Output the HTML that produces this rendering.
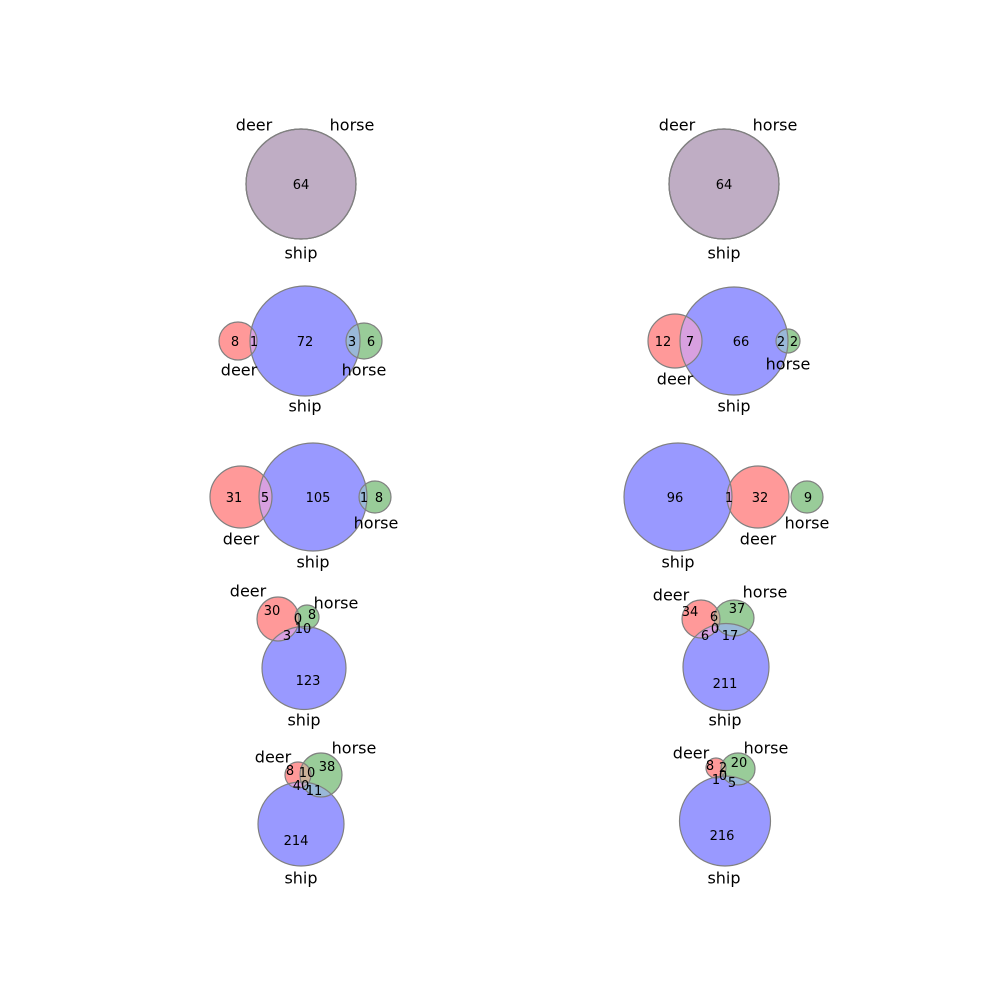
<!DOCTYPE html>
<html><head><meta charset="utf-8"><style>
html,body{margin:0;padding:0;background:#fff;}
svg text{font-family:"DejaVu Sans","Liberation Sans",sans-serif;fill:#000;}
</style></head><body>
<svg id="chart" width="1000" height="1000" viewBox="0 0 1000 1000" xmlns="http://www.w3.org/2000/svg">
<rect width="1000" height="1000" fill="#fff"/>
<defs id="defs"></defs>
</svg>
<script>
// Region counts per panel (text values shown in the diagrams)
const panelNames = ['p1','p2','p3','p4','p5','p6','p7','p8','p9','p10'];
const setLabels = ['deer','horse','ship'];
const regionCounts = [
  ['64'],
  ['64'],
  ['8','1','72','3','6'],
  ['12','7','66','2','2'],
  ['31','5','105','1','8'],
  ['96','1','32','9'],
  ['30','0','8','10','3','123'],
  ['34','6','37','0','6','17','211'],
  ['8','10','38','40','11','214'],
  ['8','2','20','1','0','5','216']
];
// geometry: circles [cx,cy,rx,ry] for deer, horse, ship
const circles = [
  [[301,184,55,55],[301,184,55,55],[301,184,55,55]],
  [[724,184,55,55],[724,184,55,55],[724,184,55,55]],
  [[238,341,19,19],[364,341,18,18],[305,341,55,55]],
  [[675,341,27,27],[788,341,12,12],[734,341,54,54]],
  [[241,497,31,31],[375,497,16,16],[313,497,54,54]],
  [[758,497,31,31],[807,497,16,16],[678,497,54,54]],
  [[278,619,21,22],[307,617,12,12],[304,668,42,41.5]],
  [[701,619,19,19],[734,618,20,18],[726,667,43,43.5]],
  [[298,775,13,13],[321,775,21,22],[301,824,43,42]],
  [[716,768,10,10],[738,769,17,16],[725,821,45.5,45]]
];
const countPos = [
  [[301,184]],
  [[724,184]],
  [[235,341],[254,341],[305,341],[352,341],[371,341]],
  [[663,341],[690,341],[741,341],[781,341],[794,341]],
  [[234,497],[265,497],[318,497],[364,497],[379,497]],
  [[675,497],[729,497],[760,497],[808,497]],
  [[272,610],[298,618],[312,614],[303,628],[287,635],[308,680]],
  [[690,611],[714,616],[737,608],[715,628],[705,635],[730,635],[725,683]],
  [[290,770],[307,772],[327,766],[301,785],[314,790],[296,840]],
  [[710,765],[723,767],[739,762],[716,779],[723,775],[732,782],[722,835]]
];
const labelPos = [
  [[254,125],[352,125],[301,253]],
  [[677,125],[775,125],[724,253]],
  [[239,370],[364,370],[305,406]],
  [[675,379],[788,364],[734,406]],
  [[241,539],[376,523],[313,562]],
  [[758,539],[807,523],[678,562]],
  [[248,591],[336,603],[304,720]],
  [[671,595],[765,592],[725,720]],
  [[273,757],[354,748],[301,878]],
  [[691,753],[766,748],[724,878]]
];
const NS='http://www.w3.org/2000/svg';
const svg=document.getElementById('chart');
const defs=document.getElementById('defs');
const colors=['#ff9999','#99cc99','#9999ff'];
const pairCol={'02':'#d8a0e0','01':'#ccb299','12':'#99b8d8'};
const tripleCol='#bfadc4';
function mk(tag,attrs){const e=document.createElementNS(NS,tag);for(const k in attrs)e.setAttribute(k,attrs[k]);return e;}
function ell(c,extra){return mk('ellipse',Object.assign({cx:c[0],cy:c[1],rx:c[2],ry:c[3]},extra||{}));}
panelNames.forEach((pn,p)=>{
  const g=mk('g',{});
  
  
  svg.appendChild(g);
  const cs=circles[p];
  cs.forEach((c,i)=>{
    const cp=mk('clipPath',{id:'clip-'+p+'-'+i});cp.appendChild(ell(c));defs.appendChild(cp);
  });
  const same=cs[0][0]===cs[2][0]&&cs[0][1]===cs[2][1];
  if(same){
    const e=ell(cs[2],{fill:tripleCol});
    
    
    g.appendChild(e);
  } else {
    cs.forEach((c,i)=>{
      const e=ell(c,{fill:colors[i]});
      
      
      g.appendChild(e);
    });
    [['0','2'],['0','1'],['1','2']].forEach(([a,b])=>{
      const e=ell(cs[+b],{fill:pairCol[a+b],'clip-path':'url(#clip-'+p+'-'+a+')'});
      
      
      g.appendChild(e);
    });
    const gg=mk('g',{'clip-path':'url(#clip-'+p+'-0)'});
    const e=ell(cs[2],{fill:tripleCol,'clip-path':'url(#clip-'+p+'-1)'});
    
    
    gg.appendChild(e);g.appendChild(gg);
  }
  cs.forEach(c=>{g.appendChild(ell(c,{fill:'none',stroke:'#808080','stroke-width':1.2}));});
  regionCounts[p].forEach((v,i)=>{
    const pos=countPos[p][i];
    const t=mk('text',{x:pos[0],y:pos[1]+5,'text-anchor':'middle','font-size':13});
    t.textContent=v;
    
    
    g.appendChild(t);
  });
  setLabels.forEach((l,i)=>{
    const pos=labelPos[p][i];
    const t=mk('text',{x:pos[0],y:pos[1]+5.5,'text-anchor':'middle','font-size':16});
    t.textContent=l;
    
    
    g.appendChild(t);
  });
});
</script>
</body></html>
